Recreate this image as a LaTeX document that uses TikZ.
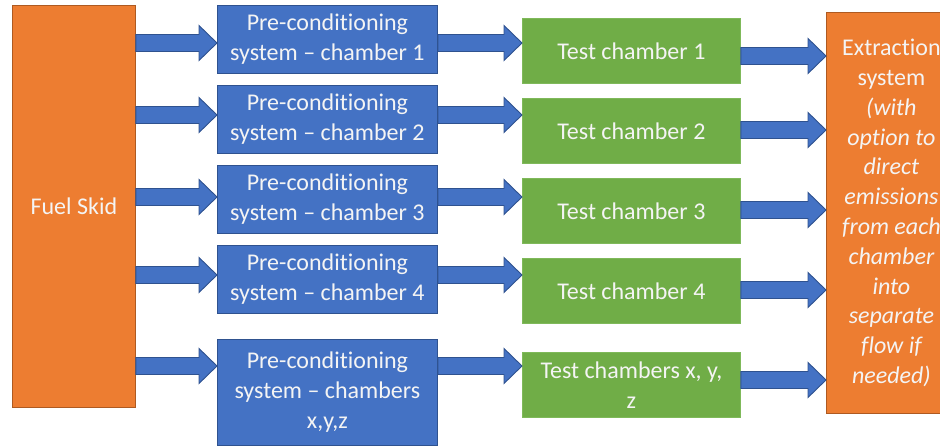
\documentclass[tikz,border=0pt]{standalone}
\usepackage{fontspec}
\setmainfont[Ligatures={NoCommon}]{Carlito}
\usetikzlibrary{calc}
\definecolor{fuelorange}{HTML}{ED7D31}
\definecolor{fuelorangedark}{HTML}{AE5A21}
\definecolor{prebox}{HTML}{4472C4}
\definecolor{preboxdark}{HTML}{2F528F}
\definecolor{testgreen}{HTML}{70AD47}
\definecolor{testgreenedge}{HTML}{7FB95A}
\definecolor{boxtext}{HTML}{F4F4F4}
\tikzset{
  basebox/.style={anchor=north west, inner sep=0pt, align=center, text=boxtext,
    font=\fontsize{24}{29.8}\selectfont, line width=0.8pt},
  orangebox/.style={basebox, fill=fuelorange, draw=fuelorangedark},
  bluebox/.style={basebox, fill=prebox, draw=preboxdark, minimum width=220pt, minimum height=68pt},
  greenbox/.style={basebox, fill=testgreen, draw=testgreenedge, minimum width=218pt, minimum height=65pt},
  flowarrow/.style={fill=prebox, draw=preboxdark, line width=0.9pt, line join=miter}
}
% block arrow from the east side of #1 to the west side of #2, centred on height #3
\newcommand\blockarrow[3]{%
  \draw[flowarrow]
    (#1.east |- 0,{#3-8.5})
    -- ($(#2.west |- 0,{#3-8.5})+(-18,0)$)
    -- ($(#2.west |- 0,{#3-17.5})+(-18,0)$)
    -- (#2.west |- 0,#3)
    -- ($(#2.west |- 0,{#3+17.5})+(-18,0)$)
    -- ($(#2.west |- 0,{#3+8.5})+(-18,0)$)
    -- (#1.east |- 0,{#3+8.5}) -- cycle;}
\begin{document}
\begin{tikzpicture}[x=1pt,y=-1pt]
\useasboundingbox (0,0) rectangle (940,446);

% fuel supply
\node[orangebox, minimum width=123pt, minimum height=402pt] (skid) at (12,5) {Fuel Skid};

% pre-conditioning systems
\node[bluebox] (pre1) at (217,5)   {Pre-conditioning\\system -- chamber 1};
\node[bluebox] (pre2) at (217,85)  {Pre-conditioning\\system -- chamber 2};
\node[bluebox] (pre3) at (217,165) {Pre-conditioning\\system -- chamber 3};
\node[bluebox] (pre4) at (217,245) {Pre-conditioning\\system -- chamber 4};
\node[bluebox, minimum height=106pt] (pre5) at (217,339) {Pre-conditioning\\system -- chambers\\x,y,z};

% test chambers
\node[greenbox] (test1) at (522,18)  {Test chamber 1};
\node[greenbox] (test2) at (522,98)  {Test chamber 2};
\node[greenbox] (test3) at (522,178) {Test chamber 3};
\node[greenbox] (test4) at (522,258) {Test chamber 4};
\node[greenbox] (test5) at (522,352) {Test chambers x, y,\\z};

% extraction system
\node[orangebox, minimum width=130pt, minimum height=401pt] (extract) at (826,12)
  {Extraction\\system\\\itshape(with\\\itshape option to\\\itshape direct\\\itshape emissions\\\itshape from each\\\itshape chamber\\\itshape into\\\itshape separate\\\itshape flow if\\\itshape needed)};

% fuel skid to pre-conditioning
\blockarrow{skid}{pre1}{43}
\blockarrow{skid}{pre2}{115}
\blockarrow{skid}{pre3}{197}
\blockarrow{skid}{pre4}{275}
\blockarrow{skid}{pre5}{366}

% pre-conditioning to test chambers
\blockarrow{pre1}{test1}{43}
\blockarrow{pre2}{test2}{115}
\blockarrow{pre3}{test3}{197}
\blockarrow{pre4}{test4}{275}
\blockarrow{pre5}{test5}{366}

% test chambers to extraction
\blockarrow{test1}{extract}{56}
\blockarrow{test2}{extract}{130}
\blockarrow{test3}{extract}{210}
\blockarrow{test4}{extract}{290}
\blockarrow{test5}{extract}{380}
\end{tikzpicture}
\end{document}
